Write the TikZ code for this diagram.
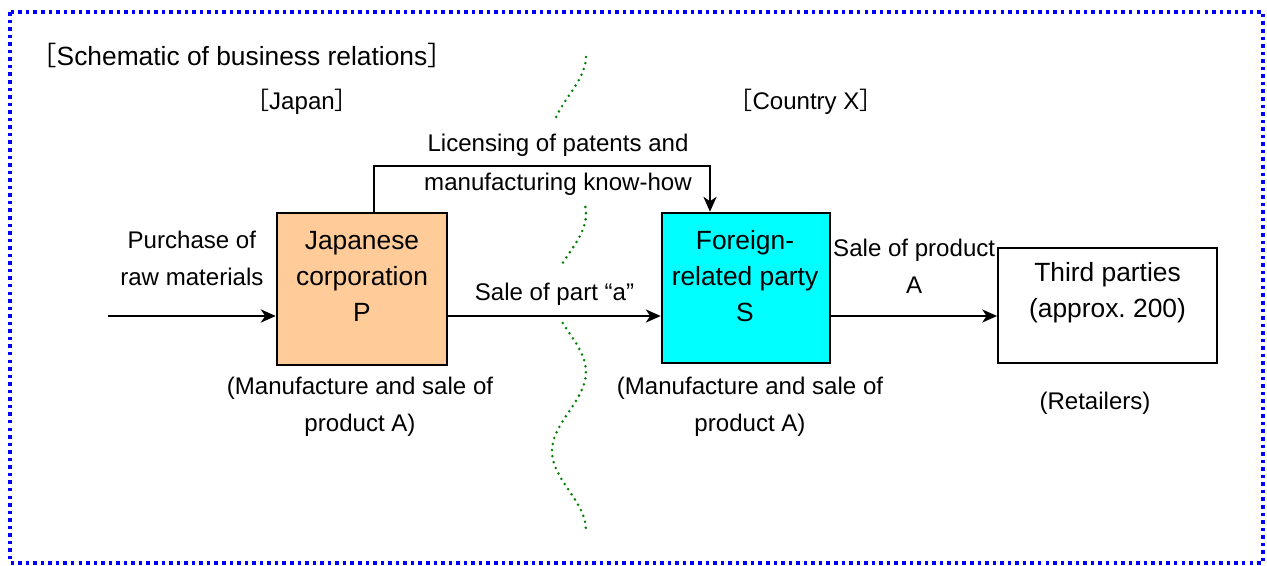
\documentclass[tikz,border=0pt]{standalone}
\usepackage{fontspec}
\setmainfont{Liberation Sans}
\newfontfamily\cjk{Noto Sans CJK SC}
\usetikzlibrary{arrows.meta}

\begin{document}
\begin{tikzpicture}[x=0.02cm, y=-0.02cm, >={Stealth[length=8.5pt, width=7.5pt, inset=2.5pt]},
    every node/.style={inner sep=0pt, align=center},
    lbl/.style={font=\fontsize{13.7}{21}\selectfont},
    big/.style={font=\fontsize{15}{20.5}\selectfont},
    corp/.style={draw, line width=1.5pt},
    arr/.style={->, line width=0.9pt},
    border/.style={draw=blue, line width=2pt, dash pattern=on 2pt off 2.3pt},
    wave/.style={draw={rgb,255:red,0;green,128;blue,0}, line width=1.6pt, line cap=round, dash pattern=on 0pt off 3.5pt}]
    \useasboundingbox (0,0) rectangle (1267,565);

    % Frame and borderline
    \draw[border] (10,12) rectangle (1263,563);
    \foreach \a/\b in {57/118, 207/263, 323/530}
        \draw[wave] plot[domain=\a:\b, samples=40, variable=\t] ({569+17*cos(2.2785*(\t-372))}, \t);

    % Headings
    \node (title) [big] at (242,55) {{\cjk ［}Schematic of business relations{\cjk ］}};
    \node (japan) [lbl] at (302,102) {{\cjk ［}Japan{\cjk ］}};
    \node (countryx) [lbl] at (806,102) {{\cjk ［}Country X{\cjk ］}};

    % Nodes
    \node (P) [corp, fill={rgb,255:red,255;green,204;blue,153}, minimum width=96.7pt, minimum height=86.5pt] at (362,289) {};
    \node (Ptext) [big] at (362,276) {Japanese\\corporation\\P};
    \node (S) [corp, fill={rgb,255:red,0;green,255;blue,255}, minimum width=95.6pt, minimum height=85.3pt] at (746,288) {};
    \node (Stext) [big] at (745,276) {Foreign-\\related party\\S};
    \node (T) [draw, line width=1.1pt, minimum width=124.6pt, minimum height=65.4pt] at (1107.5,305.5) {};
    \node (Ttext) [big] at (1107.5,293) {Third parties\\(approx.\ 200)};

    \node (Pnote) [lbl] at (360,406.5) {(Manufacture and sale of\\product A)};
    \node (Snote) [lbl] at (750,406.5) {(Manufacture and sale of\\product A)};
    \node (Tnote) [lbl] at (1095,403) {(Retailers)};

    % Arrows for transactions
    \coordinate (raw) at (108,316);
    \coordinate (licL) at (374,166);
    \coordinate (licR) at (710,166);
    \draw[arr] (raw) -- (raw -| P.west) node[lbl, midway, above=17pt] (buy) {Purchase of\\raw materials};
    \draw[arr] (P.east |- raw) -- (S.west |- raw) node[lbl, midway, above=5.8pt] (part) {Sale of part “a”};
    \draw[arr] (S.east |- raw) -- (T.west |- raw) node[lbl, midway, above=12.6pt] (prod) {Sale of product\\A};
    \draw[arr] (licL |- P.north) -- (licL) -- (licR) -- (licR |- S.north);
    \node (lic) [lbl, font=\fontsize{13.7}{22.2}\selectfont] at (558,164.5) {Licensing of patents and\\manufacturing know-how};

\end{tikzpicture}
\end{document}
